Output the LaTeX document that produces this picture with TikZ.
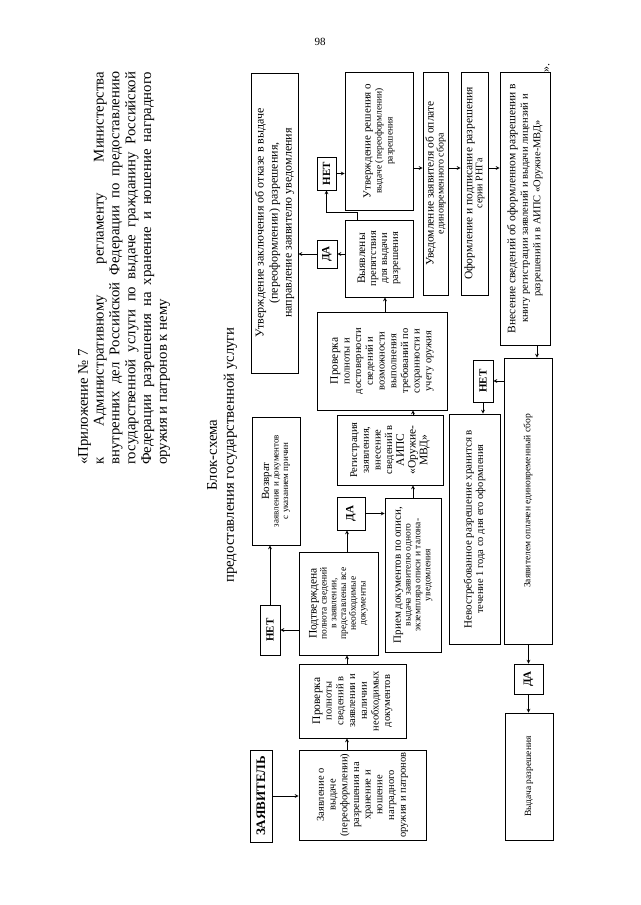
\documentclass[tikz,border=0pt]{standalone}
\usepackage{fontspec}
\setmainfont{Liberation Serif}
\newcommand{\kr}[1]{{\fontsize{11.5}{11.5}\selectfont #1}}
\begin{document}
\begin{tikzpicture}[>=stealth, x=1pt, y=-1pt,
    blok/.style={draw, rotate=90, line width=0.9pt, inner sep=1pt, align=center, font=\fontsize{10.5}{11.7}\selectfont},
    otvet/.style={draw, rotate=90, line width=0.9pt, inner sep=1pt, font=\bfseries\fontsize{11}{11}\selectfont},
    strel/.style={->, line width=0.7pt}]
    \useasboundingbox (0,0) rectangle (640,905);
    \fill[white] (0,0) rectangle (640,905);
    % page number and headings
    \node[font=\fontsize{11}{13}\selectfont] (nomer) at (320,42) {98};
    \node[rotate=90, anchor=north west, text width=393pt, align=justify, inner sep=0pt, font=\fontsize{14.8}{15.8}\selectfont] (prilozh) at (78,465)
        {\noindent«Приложение № 7\\ к Административному регламенту Министерства\linebreak внутренних дел Российской Федерации по предоставлению\linebreak государственной услуги по выдаче гражданину Российской\linebreak Федерации разрешения на хранение и ношение наградного\linebreak оружия и патронов к нему};
    \node[rotate=90, align=center, font=\fontsize{14.8}{17}\selectfont] (shema) at (222,455) {Блок-схема\\предоставления государственной услуги};
    % boxes
    \node[otvet, minimum width=92pt, minimum height=22pt, font=\bfseries\fontsize{13}{13}\selectfont] (zv) at (261,796) {ЗАЯВИТЕЛЬ};
    \node[blok, minimum width=90pt, minimum height=127pt] (zayav) at (362.5,795) {Заявление о\\выдаче\\(переоформлении)\\разрешения на\\хранение и\\ношение\\наградного\\оружия и патронов};
    \node[blok, minimum width=74pt, minimum height=107pt] (prov1) at (352.5,701) {\kr{Проверка}\\полноты\\сведений в\\заявлении и\\наличии\\необходимых\\документов};
    \node[blok, minimum width=103pt, minimum height=79pt, font=\fontsize{9.5}{9.8}\selectfont] (podtv) at (338.5,603.5) {\kr{Подтверждена}\\полнота сведений\\в заявлении,\\представлены все\\необходимые\\документы};
    \node[otvet, minimum width=50pt, minimum height=20pt] (net1) at (270,630) {НЕТ};
    \node[blok, minimum width=128pt, minimum height=48pt, font=\fontsize{9}{9.6}\selectfont] (vozvr) at (276,481) {{\fontsize{11}{11}\selectfont Возврат}\\заявления и документов\\с указанием причин};
    \node[otvet, minimum width=33pt, minimum height=28pt] (da1) at (351,513.5) {ДА};
    \node[blok, minimum width=154pt, minimum height=56pt, font=\fontsize{9.5}{9.8}\selectfont] (priem) at (413,575) {{\fontsize{11}{11}\selectfont Прием документов по описи,}\\выдача заявителю одного\\экземпляра описи и талона-\\уведомления};
    \node[blok, minimum width=70pt, minimum height=106pt] (reg) at (390,450) {Регистрация\\заявления,\\внесение\\сведений в\\\kr{АИПС}\\\kr{«Оружие-}\\\kr{МВД»}};
    \node[blok, minimum width=98pt, minimum height=130pt] (prov2) at (382,361) {\kr{Проверка}\\полноты и\\достоверности\\сведений и\\возможности\\выполнения\\требований по\\сохранности и\\учету оружия};
    \node[blok, minimum width=77pt, minimum height=68pt, font=\fontsize{10.5}{11}\selectfont] (vyyav) at (379,258.5) {\kr{Выявлены}\\препятствия\\для выдачи\\разрешения};
    \node[otvet, minimum width=28pt, minimum height=20pt] (da2) at (327,254) {ДА};
    \node[blok, minimum width=300pt, minimum height=47pt, font=\fontsize{12}{14}\selectfont] (utvz) at (274.5,223) {Утверждение заключения об отказе в выдаче\\(переоформлении) разрешения,\\направление заявителю уведомления};
    \node[otvet, minimum width=33pt, minimum height=19pt] (net2) at (326.5,173.5) {НЕТ};
    \node[blok, minimum width=138pt, minimum height=68pt, font=\fontsize{9.5}{11}\selectfont] (utvr) at (379,141) {{\fontsize{11}{11}\selectfont Утверждение решения о}\\выдаче (переоформлении)\\разрешения};
    \node[blok, minimum width=223pt, minimum height=25pt, font=\fontsize{10}{10}\selectfont] (uved) at (435.5,183.5) {\kr{Уведомление заявителя об оплате}\\единовременного сбора};
    \node[blok, minimum width=223pt, minimum height=27pt, font=\fontsize{10}{10}\selectfont] (oform) at (474.5,183.5) {\kr{Оформление и подписание разрешения}\\серии РНГа};
    \node[blok, minimum width=273pt, minimum height=50pt, font=\fontsize{10.5}{12.5}\selectfont] (vnes) at (525,208.5) {\kr{Внесение сведений об оформленном разрешении в}\\книгу регистрации заявлений и выдачи лицензий и\\разрешений и в АИПС «Оружие-МВД»};
    \node[rotate=90, inner sep=0pt, font=\fontsize{12}{12}\selectfont] (kav) at (547,68) {».};
    \node[blok, minimum width=286pt, minimum height=48pt, font=\fontsize{9.5}{11}\selectfont] (oplach) at (528,501) {Заявителем оплачен единовременный сбор};
    \node[otvet, minimum width=42pt, minimum height=20pt] (net3) at (483,381) {НЕТ};
    \node[blok, minimum width=230pt, minimum height=51pt, font=\fontsize{10.5}{11.5}\selectfont] (nevostr) at (474.5,529) {{\fontsize{11}{11}\selectfont Невостребованное разрешение хранится в}\\течение 1 года со дня его оформления};
    \node[otvet, minimum width=30pt, minimum height=29pt] (da3) at (528.5,679) {ДА};
    \node[blok, minimum width=127pt, minimum height=48pt, font=\fontsize{9.5}{11}\selectfont] (vydacha) at (529,776.5) {Выдача разрешения};
    % guide lines for the arrows
    \coordinate (sp1) at (347,0);
    \coordinate (sp2) at (385,0);
    \coordinate (sp3) at (357,0);
    \coordinate (sp4) at (0,168);
    \coordinate (sp5) at (537,0);
    % arrows
    \draw[strel] (zv.south) -- (zayav.north |- zv.south);
    \draw[strel] (zayav.east -| sp1) -- (prov1.west -| sp1);
    \draw[strel] (prov1.east -| sp1) -- (podtv.west -| sp1);
    \draw[strel] (podtv.north |- net1.south) -- (net1.south);
    \draw[strel] (net1.east) -- (net1.east |- vozvr.west);
    \draw[strel] (podtv.east -| sp1) -- (da1.west -| sp1);
    \draw[strel] (da1.south) -- (da1.south -| priem.north);
    \draw[strel] (priem.east) -- (priem.east |- reg.west);
    \draw[strel] (reg.east -| priem.east) -- (prov2.west -| priem.east);
    \draw[strel] (prov2.east -| sp2) -- (vyyav.west -| sp2);
    \draw[strel] (vyyav.north |- da2.south) -- (da2.south);
    \draw[strel] (da2.north) -- (da2.north -| utvz.south);
    \draw[strel] (vyyav.east -| sp3) -- ++(0,-7) -| (net2.west);
    \draw[strel] (net2.south) -- (net2.south -| utvr.north);
    \draw[strel] (utvr.south |- sp4) -- (uved.north |- sp4);
    \draw[strel] (uved.south |- sp4) -- (oform.north |- sp4);
    \draw[strel] (oform.south |- sp4) -- (vnes.north |- sp4);
    \draw[strel] (vnes.west -| sp5) -- (oplach.east -| sp5);
    \draw[strel] (oplach.north |- net3.south) -- (net3.south);
    \draw[strel] (net3.west) -- (net3.west |- nevostr.east);
    \draw[strel] (oplach.west -| da3.east) -- (da3.east);
    \draw[strel] (da3.west) -- (da3.west |- vydacha.east);
\end{tikzpicture}
\end{document}
